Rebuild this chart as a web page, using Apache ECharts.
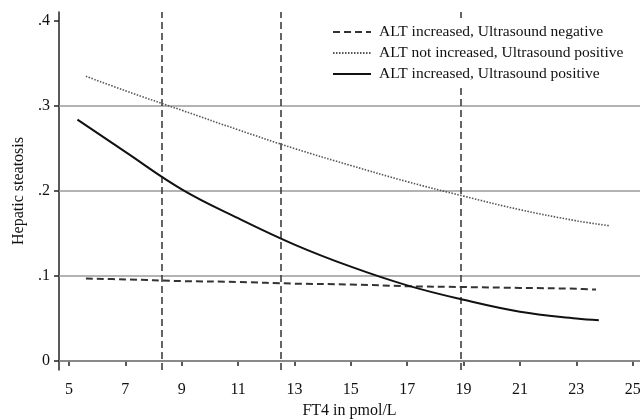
<!DOCTYPE html>
<html><head><meta charset="utf-8">
<script src="https://cdn.jsdelivr.net/npm/echarts@6/dist/echarts.min.js"></script>
<style>html,body{margin:0;padding:0;background:#fff}#c{width:640px;height:420px}</style>
</head><body><div id="c"></div>
<script>
const seriesNames = ['ALT increased, Ultrasound negative', 'ALT not increased, Ultrasound positive', 'ALT increased, Ultrasound positive'];
const dashedX = [5.6, 7, 9, 11, 13, 15, 17, 19, 21, 23, 23.7];
const dashedY = [0.097, 0.096, 0.094, 0.093, 0.091, 0.090, 0.088, 0.087, 0.086, 0.085, 0.084];
const dottedX = [5.6, 7, 9, 11, 13, 15, 17, 19, 21, 23, 24.2];
const dottedY = [0.335, 0.318, 0.295, 0.272, 0.250, 0.230, 0.211, 0.194, 0.178, 0.165, 0.159];
const solidX = [5.3, 7, 9, 11, 13, 15, 17, 19, 21, 23, 23.8];
const solidY = [0.284, 0.246, 0.202, 0.168, 0.137, 0.111, 0.089, 0.072, 0.058, 0.050, 0.048];
const cutoffX = [8.3, 12.5, 18.9];
const gridY = [0, 0.1, 0.2, 0.3];
const xTicks = [5, 7, 9, 11, 13, 15, 17, 19, 21, 23, 25];
const yTicks = [0, 0.1, 0.2, 0.3, 0.4];

const pair = (xs, ys) => xs.map((x, i) => [x, ys[i]]);
const font = 'Liberation Serif';
const chart = echarts.init(document.getElementById('c'), null, {renderer: 'canvas'});
chart.setOption({
  animation: false,
  backgroundColor: '#fff',
  grid: {left: 59, right: 0, top: 12, bottom: 50, containLabel: false, outerBoundsMode: 'none'},
  legend: {
    orient: 'vertical', left: 326, top: 20,
    data: seriesNames,
    itemWidth: 38, itemHeight: 15, itemGap: 5,
    itemStyle: {opacity: 0},
    backgroundColor: '#fff', padding: [4, 6, 6, 6],
    textStyle: {fontFamily: font, fontSize: 15.5, color: '#111', padding: [0, 0, 0, 3]},
    z: 10
  },
  xAxis: {
    type: 'value', min: 4.645, max: 25.26,
    name: 'FT4 in pmol/L', nameLocation: 'middle', nameGap: 29,
    nameTextStyle: {fontFamily: font, fontSize: 16, color: '#111'},
    axisLine: {show: true, lineStyle: {color: '#222', width: 1.5}},
    axisTick: {show: true, customValues: xTicks, length: 5, lineStyle: {color: '#222', width: 1.5}},
    axisLabel: {customValues: xTicks, fontFamily: font, fontSize: 16, color: '#111', margin: 12},
    splitLine: {show: false}
  },
  yAxis: {
    type: 'value', min: -0.0106, max: 0.4106,
    name: 'Hepatic steatosis', nameLocation: 'middle', nameGap: 32,
    nameTextStyle: {fontFamily: font, fontSize: 16, color: '#111'},
    axisLine: {show: true, lineStyle: {color: '#222', width: 1.5}},
    axisTick: {show: true, customValues: yTicks, length: 5, lineStyle: {color: '#222', width: 1.5}},
    axisLabel: {customValues: yTicks, fontFamily: font, fontSize: 16, color: '#111', margin: 9,
      formatter: v => (Math.abs(v) < 1e-9 ? '0' : String(Math.round(v * 10) / 10).replace(/^0\./, '.'))},
    splitLine: {show: false}
  },
  series: [
    {
      name: seriesNames[0], type: 'line', data: pair(dashedX, dashedY), smooth: 0.4, symbol: 'none',
      lineStyle: {color: '#333', width: 2, type: [7, 4]}, z: 5,
      markLine: {
        silent: true, symbol: 'none', label: {show: false}, animation: false,
        data: gridY.map(v => ({yAxis: v, lineStyle: {color: '#9a9a9a', width: 1.6, type: 'solid'}}))
          .concat(cutoffX.map(v => ({xAxis: v, lineStyle: {color: '#333', width: 1.5, type: [7, 4]}}))),
        z: 1
      }
    },
    {
      name: seriesNames[1], type: 'line', data: pair(dottedX, dottedY), smooth: 0.4, symbol: 'none',
      lineStyle: {color: '#555', width: 1.6, type: [1.5, 1.5]}, z: 5
    },
    {
      name: seriesNames[2], type: 'line', data: pair(solidX, solidY), smooth: 0.4, symbol: 'none',
      lineStyle: {color: '#111', width: 2}, z: 5
    }
  ]
});
</script></body></html>
